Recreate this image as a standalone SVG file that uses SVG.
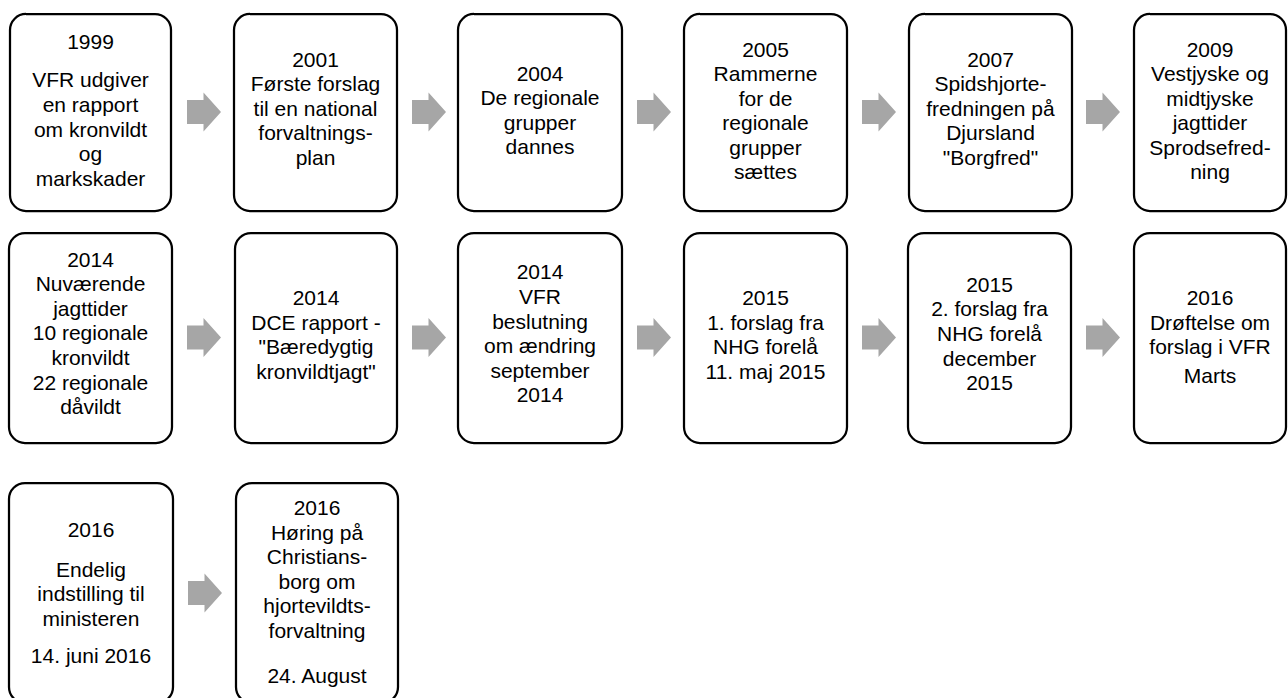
<svg xmlns="http://www.w3.org/2000/svg" xmlns:xlink="http://www.w3.org/1999/xlink" width="1288" height="698" viewBox="0 0 1288 698">
<style>
.box{fill:#ffffff;stroke:#000000;stroke-width:2.25}
.t{font-family:"Liberation Sans",Arial,sans-serif;font-size:21px;fill:#000000;text-anchor:middle}
.arr{fill:#a6a6a6}
</style>
<defs>
<path id="arrow" d="M0,-12 H16.5 V-19.5 L34,0 L16.5,19.5 V12 H0 Z"/>
</defs>
<rect width="1288" height="698" fill="#ffffff"/>
<g id="connectors" class="arr">
<use xlink:href="#arrow" href="#arrow" x="187" y="112"/>
<use xlink:href="#arrow" href="#arrow" x="412" y="112"/>
<use xlink:href="#arrow" href="#arrow" x="637" y="112"/>
<use xlink:href="#arrow" href="#arrow" x="862" y="112"/>
<use xlink:href="#arrow" href="#arrow" x="1086" y="112"/>
<use xlink:href="#arrow" href="#arrow" x="187" y="337.5"/>
<use xlink:href="#arrow" href="#arrow" x="412" y="337.5"/>
<use xlink:href="#arrow" href="#arrow" x="637" y="337.5"/>
<use xlink:href="#arrow" href="#arrow" x="862" y="337.5"/>
<use xlink:href="#arrow" href="#arrow" x="1086" y="337.5"/>
<use xlink:href="#arrow" href="#arrow" x="188" y="593"/>
</g>
<g id="n1999">
<rect class="box" x="10" y="14" width="161" height="197" rx="16"/>
<text class="t" x="90.5" y="49">1999</text>
<text class="t" x="90.5" y="87.3">VFR udgiver</text>
<text class="t" x="90.5" y="111.9">en rapport</text>
<text class="t" x="90.5" y="136.5">om kronvildt</text>
<text class="t" x="90.5" y="161.1">og</text>
<text class="t" x="90.5" y="185.7">markskader</text>
</g>
<g id="n2001">
<rect class="box" x="234" y="14" width="163" height="197" rx="16"/>
<text class="t" x="315.5" y="66.5">2001</text>
<text class="t" x="315.5" y="91">Første forslag</text>
<text class="t" x="315.5" y="115.5">til en national</text>
<text class="t" x="315.5" y="140">forvaltnings-</text>
<text class="t" x="315.5" y="164.5">plan</text>
</g>
<g id="n2004">
<rect class="box" x="458" y="14" width="164" height="197" rx="16"/>
<text class="t" x="540" y="80.5">2004</text>
<text class="t" x="540" y="105">De regionale</text>
<text class="t" x="540" y="129.5">grupper</text>
<text class="t" x="540" y="154">dannes</text>
</g>
<g id="n2005">
<rect class="box" x="684" y="14" width="163" height="197" rx="16"/>
<text class="t" x="765.5" y="56.5">2005</text>
<text class="t" x="765.5" y="81">Rammerne</text>
<text class="t" x="765.5" y="105.6">for de</text>
<text class="t" x="765.5" y="130.2">regionale</text>
<text class="t" x="765.5" y="154.8">grupper</text>
<text class="t" x="765.5" y="179.4">sættes</text>
</g>
<g id="n2007">
<rect class="box" x="909" y="14" width="163" height="197" rx="16"/>
<text class="t" x="990.5" y="66.5">2007</text>
<text class="t" x="990.5" y="91">Spidshjorte-</text>
<text class="t" x="990.5" y="115.5">fredningen på</text>
<text class="t" x="990.5" y="140">Djursland</text>
<text class="t" x="990.5" y="164.5">"Borgfred"</text>
</g>
<g id="n2009">
<rect class="box" x="1134" y="14" width="152" height="197" rx="16"/>
<text class="t" x="1210" y="56.5">2009</text>
<text class="t" x="1210" y="81">Vestjyske og</text>
<text class="t" x="1210" y="105.6">midtjyske</text>
<text class="t" x="1210" y="130.2">jagttider</text>
<text class="t" x="1210" y="154.8">Sprodsefred-</text>
<text class="t" x="1210" y="179.4">ning</text>
</g>
<g id="n2014a">
<rect class="box" x="9" y="233" width="163" height="210" rx="16"/>
<text class="t" x="90.5" y="266.5">2014</text>
<text class="t" x="90.5" y="291">Nuværende</text>
<text class="t" x="90.5" y="315.7">jagttider</text>
<text class="t" x="90.5" y="340.3">10 regionale</text>
<text class="t" x="90.5" y="364.9">kronvildt</text>
<text class="t" x="90.5" y="389.5">22 regionale</text>
<text class="t" x="90.5" y="414.1">dåvildt</text>
</g>
<g id="n2014b">
<rect class="box" x="235" y="233" width="162" height="210" rx="16"/>
<text class="t" x="316" y="305">2014</text>
<text class="t" x="316" y="329.6">DCE rapport -</text>
<text class="t" x="316" y="354.2">"Bæredygtig</text>
<text class="t" x="316" y="378.8">kronvildtjagt"</text>
</g>
<g id="n2014c">
<rect class="box" x="458" y="233" width="164" height="210" rx="16"/>
<text class="t" x="540" y="279.3">2014</text>
<text class="t" x="540" y="303.9">VFR</text>
<text class="t" x="540" y="328.5">beslutning</text>
<text class="t" x="540" y="353.1">om ændring</text>
<text class="t" x="540" y="377.7">september</text>
<text class="t" x="540" y="402.3">2014</text>
</g>
<g id="n2015a">
<rect class="box" x="684" y="233" width="163" height="210" rx="16"/>
<text class="t" x="765.5" y="305">2015</text>
<text class="t" x="765.5" y="329.6">1. forslag fra</text>
<text class="t" x="765.5" y="354.2">NHG forelå</text>
<text class="t" x="765.5" y="378.8">11. maj 2015</text>
</g>
<g id="n2015b">
<rect class="box" x="908" y="233" width="163" height="210" rx="16"/>
<text class="t" x="989.5" y="291.7">2015</text>
<text class="t" x="989.5" y="316.3">2. forslag fra</text>
<text class="t" x="989.5" y="340.9">NHG forelå</text>
<text class="t" x="989.5" y="365.5">december</text>
<text class="t" x="989.5" y="390.1">2015</text>
</g>
<g id="n2016a">
<rect class="box" x="1134" y="233" width="152" height="210" rx="16"/>
<text class="t" x="1210" y="305">2016</text>
<text class="t" x="1210" y="329.6">Drøftelse om</text>
<text class="t" x="1210" y="354.2">forslag i VFR</text>
<text class="t" x="1210" y="383.3">Marts</text>
</g>
<g id="n2016b">
<rect class="box" x="9" y="483" width="164" height="220" rx="16"/>
<text class="t" x="91" y="536.7">2016</text>
<text class="t" x="91" y="576.7">Endelig</text>
<text class="t" x="91" y="601.3">indstilling til</text>
<text class="t" x="91" y="625.9">ministeren</text>
<text class="t" x="91" y="663.3">14. juni 2016</text>
</g>
<g id="n2016c">
<rect class="box" x="236" y="483" width="162" height="220" rx="16"/>
<text class="t" x="317" y="515">2016</text>
<text class="t" x="317" y="539.6">Høring på</text>
<text class="t" x="317" y="564.2">Christians-</text>
<text class="t" x="317" y="588.8">borg om</text>
<text class="t" x="317" y="613.4">hjortevildts-</text>
<text class="t" x="317" y="638">forvaltning</text>
<text class="t" x="317" y="683">24. August</text>
</g>
</svg>
